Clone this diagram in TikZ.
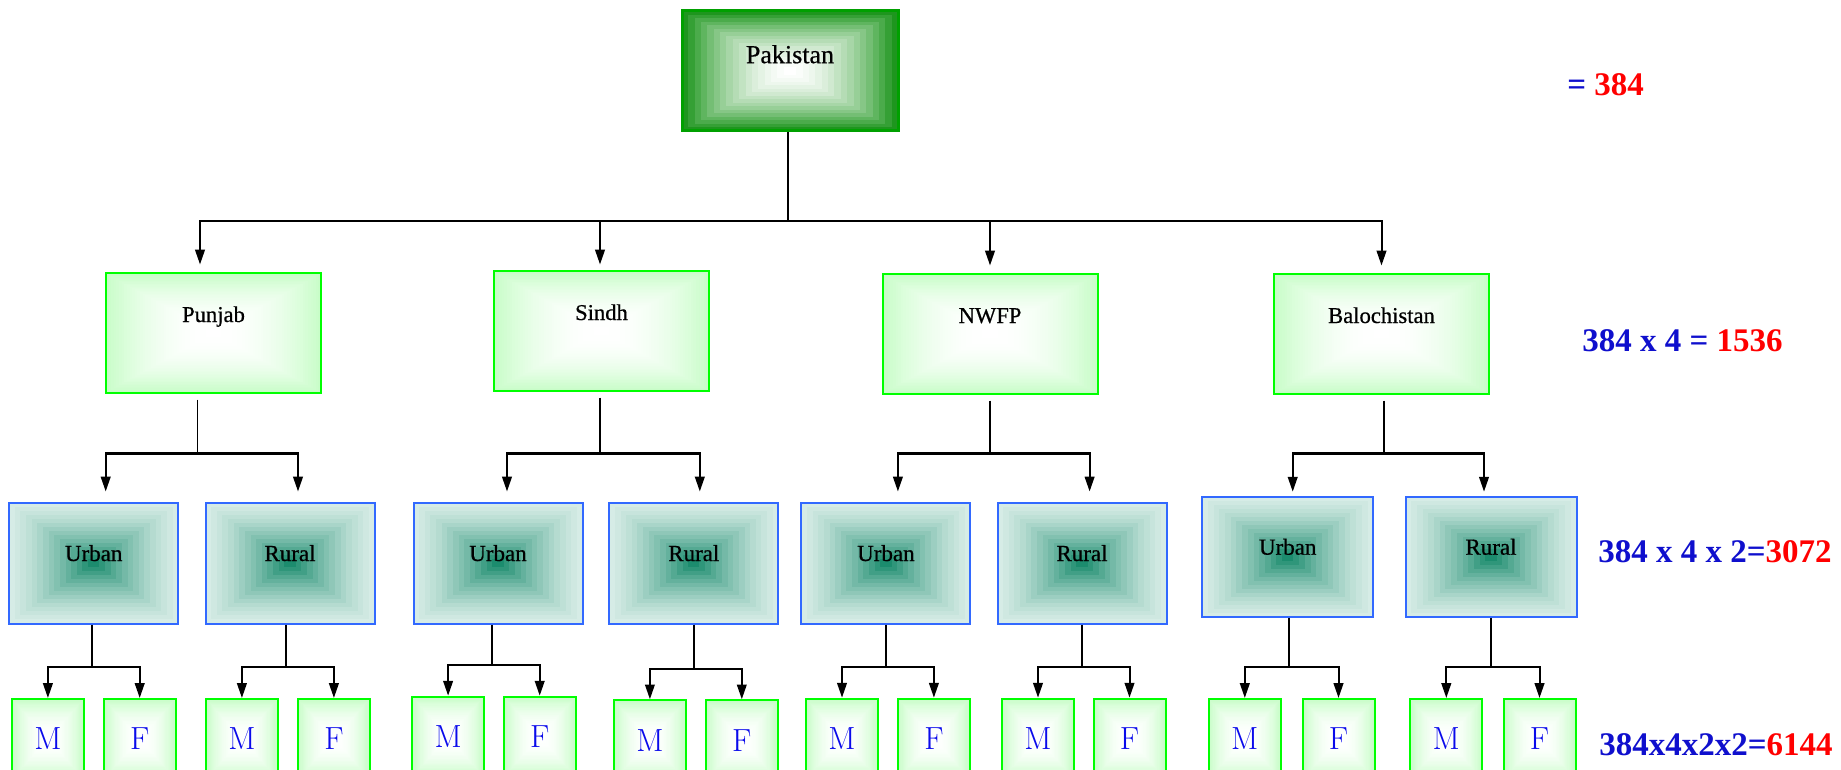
\documentclass[tikz,border=0pt]{standalone}
\usepackage{fontspec}
\newfontfamily\serifL{Liberation Serif}
\newfontfamily\serifN{Liberation Serif}[FakeBold=0.6]
\usetikzlibrary{arrows.meta,calc}
\definecolor{pakout}{RGB}{30,150,30}
\definecolor{pakborder}{RGB}{0,160,0}
\definecolor{lgreen}{RGB}{0,255,0}
\definecolor{paleg}{RGB}{200,253,200}
\definecolor{bluebd}{RGB}{50,105,255}
\definecolor{tealout}{RGB}{214,236,230}
\definecolor{tealin}{RGB}{28,140,110}
\definecolor{lblue}{RGB}{15,15,205}
\definecolor{mfblue}{RGB}{10,10,235}
\newcommand\liftt[2]{\raisebox{#1}[0pt][0pt]{#2}}
\tikzset{
  nestfill/.style n args={4}{path picture={
    \foreach \i in {0,...,#3}{
      \pgfmathsetmacro\gT{\i/#3}
      \pgfmathtruncatemacro\gP{round(100*(\gT+#4*(\gT-\gT*\gT)))}
      \pgfmathsetmacro\gF{0.5*\i/(#3+1)}
      \fill[#2!\gP!#1] ($(path picture bounding box.south west)!\gF!(path picture bounding box.north east)$) rectangle ($(path picture bounding box.north east)!\gF!(path picture bounding box.south west)$);
    }}},
  pakbox/.style={draw=pakborder, line width=1.5pt, minimum width=108pt, minimum height=60pt, inner sep=0pt,
    nestfill={pakout}{white}{16}{0.7}, font=\serifN\fontsize{13}{15}\selectfont},
  provbox/.style={draw=lgreen, line width=1pt, minimum width=107.5pt, minimum height=59.5pt, inner sep=0pt,
    nestfill={paleg}{white}{40}{1}, font=\serifN\fontsize{11.3}{13}\selectfont},
  areabox/.style={draw=bluebd, line width=1pt, minimum width=84.5pt, minimum height=60.5pt, inner sep=0pt,
    nestfill={tealout}{tealin}{14}{-0.5}, font=\serifN\fontsize{11.5}{13}\selectfont},
  sexbox/.style={draw=lgreen, line width=1pt, minimum width=36pt, minimum height=40pt, inner sep=0pt,
    nestfill={paleg}{white}{30}{1}, text=mfblue, font=\fontsize{16}{18}\selectfont},
  eqlabel/.style={inner sep=0pt, anchor=base west, text=lblue, font=\serifL\bfseries\fontsize{16.5}{19}\selectfont},
  arr/.style={-{Triangle[length=7.4pt,width=4.8pt]}, line width=1pt},
  stem/.style={line width=0.8pt},
  bar/.style={line width=1.4pt},
  link/.style={line width=1pt},
}
\begin{document}
\begin{tikzpicture}[x=0.5pt,y=-0.5pt]
\useasboundingbox (0,0) rectangle (1841,770);
\clip (0,0) rectangle (1841,770);

% level 1
\node[pakbox] (pak) at (790,71) {\liftt{3.9pt}{Pakistan}};

% level 2
\node[provbox] (punjab) at (213.5,333) {\liftt{5.5pt}{Punjab}};
\node[provbox] (sindh) at (601.5,331) {\liftt{5.5pt}{Sindh}};
\node[provbox] (nwfp) at (990,334) {\liftt{5.5pt}{NWFP}};
\node[provbox] (baloch) at (1381.5,334) {\liftt{5.5pt}{Balochistan}};

% level 3
\node[areabox] (u1) at (93.7,563) {\liftt{1pt}{Urban}};
\node[areabox] (r1) at (290,563) {\liftt{1pt}{Rural}};
\node[areabox] (u2) at (498,563) {\liftt{1pt}{Urban}};
\node[areabox] (r2) at (693.8,563) {\liftt{1pt}{Rural}};
\node[areabox] (u3) at (885.9,563) {\liftt{1pt}{Urban}};
\node[areabox] (r3) at (1082,563) {\liftt{1pt}{Rural}};
\node[areabox, minimum width=85.5pt, minimum height=60pt] (u4) at (1287.7,556.7) {\liftt{1pt}{Urban}};
\node[areabox, minimum width=85.5pt, minimum height=60pt] (r4) at (1491,556.7) {\liftt{1pt}{Rural}};

% level 4
\node[sexbox] (m1) at (47.9,739) {M};
\node[sexbox] (f1) at (139.7,739) {F};
\node[sexbox] (m2) at (241.9,739) {M};
\node[sexbox] (f2) at (333.9,739) {F};
\node[sexbox] (m3) at (448.1,736.7) {M};
\node[sexbox] (f3) at (539.7,736.7) {F};
\node[sexbox] (m4) at (649.9,740.3) {M};
\node[sexbox] (f4) at (741.8,740.3) {F};
\node[sexbox] (m5) at (842,738.7) {M};
\node[sexbox] (f5) at (933.9,738.7) {F};
\node[sexbox] (m6) at (1038,738.7) {M};
\node[sexbox] (f6) at (1129.5,738.7) {F};
\node[sexbox] (m7) at (1244.8,739) {M};
\node[sexbox] (f7) at (1338.5,739) {F};
\node[sexbox] (m8) at (1446.3,739) {M};
\node[sexbox] (f8) at (1539.5,739) {F};

% right-hand totals
\node[eqlabel] (e1) at (1567,95.5) {= \textcolor{red}{384}};
\node[eqlabel] (e2) at (1582,351.5) {384 x 4 = \textcolor{red}{1536}};
\node[eqlabel] (e3) at (1598,562) {384 x 4 x 2=\textcolor{red}{3072}};
\node[eqlabel] (e4) at (1599,755) {384x4x2x2=\textcolor{red}{6144}};

% level 1 -> level 2
\coordinate (hub) at (788,221);
\draw[link] (pak.south -| hub) -- (hub);
\coordinate (tpun) at ($(punjab.north)+(-13.5,0)$);
\coordinate (tsin) at ($(sindh.north)+(-1.5,0)$);
\draw[arr, shorten >=4pt] (hub) -| (tpun);
\draw[arr, shorten >=3pt] (hub) -| (tsin);
\draw[arr, shorten >=4pt] (hub) -| (nwfp.north);
\draw[arr, shorten >=4pt] (hub) -| (baloch.north);

% level 2 -> level 3
\foreach \p/\a/\b/\jx/\da/\db/\sh in {punjab/u1/r1/197.3/12/8/5pt, sindh/u2/r2/600/9/6/5pt, nwfp/u3/r3/989.8/12/7.6/5pt, baloch/u4/r4/1384/5/-7/2pt}{
  \coordinate (j\p) at (\jx,453.3);
  \coordinate (ta\p) at ($(\a.north)+(\da,0)$);
  \coordinate (tb\p) at ($(\b.north)+(\db,0)$);
  \draw[stem, shorten <=3pt] (\p.south -| j\p) -- (j\p);
  \draw[arr, shorten >=\sh] (j\p) -| (ta\p);
  \draw[arr, shorten >=\sh] (j\p) -| (tb\p);
  \draw[bar] (j\p -| ta\p) -- (j\p -| tb\p);
}

% level 3 -> level 4
\foreach \p/\m/\f/\jx/\jy in {u1/m1/f1/92/666.7, r1/m2/f2/285.7/666.7, u2/m3/f3/491.7/664.7, r2/m4/f4/693.8/669, u3/m5/f5/886/667, r3/m6/f6/1082/667, u4/m7/f7/1289.3/666.7, r4/m8/f8/1490.7/666.7}{
  \coordinate (j\p) at (\jx,\jy);
  \draw[link] (\p.south -| j\p) -- (j\p);
  \draw[arr] (j\p) -| (\m.north);
  \draw[arr] (j\p) -| (\f.north);
}
\end{tikzpicture}
\end{document}
